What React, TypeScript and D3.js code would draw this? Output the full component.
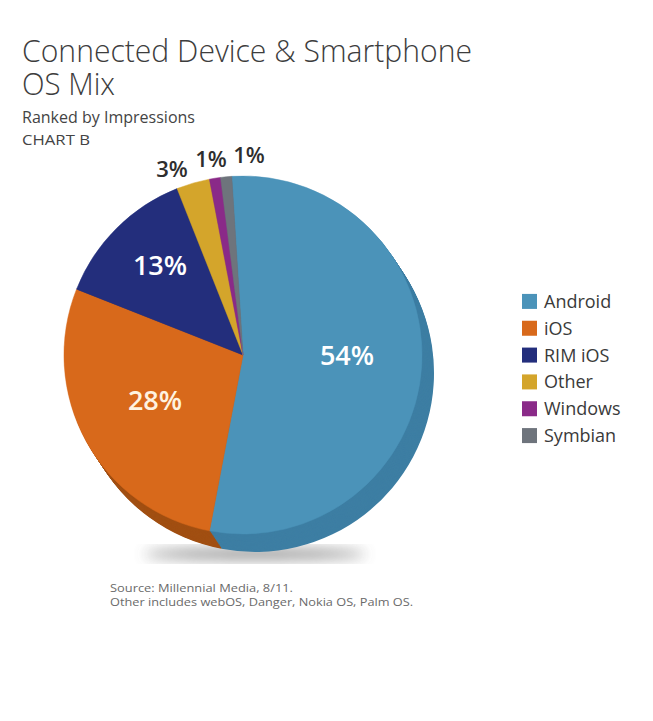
import * as d3 from "d3";
import React, { useEffect, useRef } from "react";

const categories = ["Android", "iOS", "RIM iOS", "Other", "Windows", "Symbian"];
const shares = [54, 28, 13, 3, 1, 1];
const topColors = ["#4b93b9", "#d8691b", "#232e7c", "#d4a52b", "#8a2a88", "#6e747c"];
const sideColors = ["#3d7ea3", "#a14f12", "#1a2360", "#a8841f", "#6a1f69", "#555a60"];
const insideLabels = ["54%", "28%", "13%"];
const outsideLabels = ["3%", "1%", "1%"];
const titleLines = ["Connected Device & Smartphone", "OS Mix"];
const titleWidths = [450, 93];
const notes = ["Source: Millennial Media, 8/11.", "Other includes webOS, Danger, Nokia OS, Palm OS."];
const noteWidths = [183, 303];

const App: React.FC = () => {
  const ref = useRef<SVGSVGElement>(null);

  useEffect(() => {
    const width = 653;
    const height = 721;
    const cx = 243;
    const cy = 355;
    const r = 179;
    const depthX = 12;
    const depthY = 18;

    const svg = d3.select(ref.current).attr("width", width).attr("height", height);
    svg.selectAll("*").remove();

    svg.append("rect").attr("width", width).attr("height", height).attr("fill", "#fff");

    const defs = svg.append("defs");
    defs
      .append("filter")
      .attr("id", "blur")
      .attr("x", "-50%")
      .attr("y", "-50%")
      .attr("width", "200%")
      .attr("height", "200%")
      .append("feGaussianBlur")
      .attr("stdDeviation", 7);

    const font = "'Open Sans', 'Noto Sans', sans-serif";

    // title block (two lines, tight leading)
    const title = svg
      .append("text")
      .attr("font-family", font)
      .attr("font-weight", 300)
      .attr("font-size", 32)
      .attr("fill", "#3d3d3d");
    titleLines.forEach((t, i) => {
      title
        .append("tspan")
        .attr("x", 22)
        .attr("y", 62 + i * 33)
        .attr("textLength", titleWidths[i])
        .attr("lengthAdjust", "spacingAndGlyphs")
        .text(t);
    });
    svg
      .append("text")
      .attr("x", 22)
      .attr("y", 123)
      .attr("font-family", font)
      .attr("font-size", 16)
      .attr("fill", "#444")
      .attr("textLength", 173)
      .attr("lengthAdjust", "spacingAndGlyphs")
      .text("Ranked by Impressions");
    svg
      .append("text")
      .attr("x", 22)
      .attr("y", 145)
      .attr("font-family", font)
      .attr("font-size", 15)
      .attr("fill", "#444")
      .attr("textLength", 68)
      .attr("lengthAdjust", "spacingAndGlyphs")
      .text("CHART B");

    const pie = d3
      .pie<number>()
      .sort(null)
      .startAngle(-0.063)
      .endAngle(-0.063 + Math.PI * 2);
    const arcs = pie(shares);
    const arc = d3.arc<d3.PieArcDatum<number>>().innerRadius(0).outerRadius(r);

    // drop shadow
    svg
      .append("ellipse")
      .attr("cx", cx + 12)
      .attr("cy", cy + r + depthY + 2)
      .attr("rx", r * 0.62)
      .attr("ry", 5)
      .attr("fill", "#555")
      .attr("opacity", 0.7)
      .attr("filter", "url(#blur)");

    // extruded side
    const steps = 20;
    for (let k = steps; k >= 1; k--) {
      const g = svg
        .append("g")
        .attr(
          "transform",
          `translate(${cx + (depthX * k) / steps},${cy + (depthY * k) / steps})`
        );
      g.selectAll("path")
        .data(arcs)
        .join("path")
        .attr("d", arc)
        .attr("fill", (_, i) => sideColors[i]);
    }

    // top face
    const top = svg.append("g").attr("transform", `translate(${cx},${cy})`);
    top
      .selectAll("path")
      .data(arcs)
      .join("path")
      .attr("d", arc)
      .attr("fill", (_, i) => topColors[i])
      .attr("stroke", (_, i) => topColors[i])
      .attr("stroke-width", 0.5);

    // labels inside big slices
    const insidePos = [
      [104, 10],
      [-88, 55],
      [-83, -80],
    ];
    insideLabels.forEach((t, i) => {
      top
        .append("text")
        .attr("x", insidePos[i][0])
        .attr("y", insidePos[i][1])
        .attr("text-anchor", "middle")
        .attr("font-family", font)
        .attr("font-weight", 600)
        .attr("font-size", 27)
        .attr("fill", i === 1 ? "#fff3e0" : "#fff")
        .text(t);
    });

    // labels above the small slices
    const outsidePos = [
      [172, 177],
      [211, 167],
      [249, 163],
    ];
    outsideLabels.forEach((t, i) => {
      svg
        .append("text")
        .attr("x", outsidePos[i][0])
        .attr("y", outsidePos[i][1])
        .attr("text-anchor", "middle")
        .attr("font-family", font)
        .attr("font-weight", 600)
        .attr("font-size", 22)
        .attr("fill", "#2e2e2e")
        .text(t);
    });

    // legend
    const y = d3
      .scaleBand<string>()
      .domain(categories)
      .range([288, 449])
      .paddingInner(0);
    const legend = svg
      .append("g")
      .selectAll("g")
      .data(categories)
      .join("g")
      .attr("transform", (d) => `translate(522,${y(d)! + y.bandwidth() / 2})`);
    legend
      .append("rect")
      .attr("y", -7.5)
      .attr("width", 15)
      .attr("height", 15)
      .attr("fill", (_, i) => topColors[i]);
    legend
      .append("text")
      .attr("x", 22)
      .attr("y", 6.5)
      .attr("font-family", font)
      .attr("font-size", 18)
      .attr("fill", "#3a3a3a")
      .text((d) => d);

    // footnotes
    notes.forEach((t, i) => {
      svg
        .append("text")
        .attr("x", 110)
        .attr("y", 592 + i * 14)
        .attr("font-family", font)
        .attr("font-size", 11.5)
        .attr("fill", "#6a6a6a")
        .attr("textLength", noteWidths[i])
        .attr("lengthAdjust", "spacingAndGlyphs")
        .text(t);
    });
  }, []);

  return (
    <svg
      ref={ref}
      style={{ position: "absolute", left: 0, top: 0, display: "block" }}
    />
  );
};

export default App;
